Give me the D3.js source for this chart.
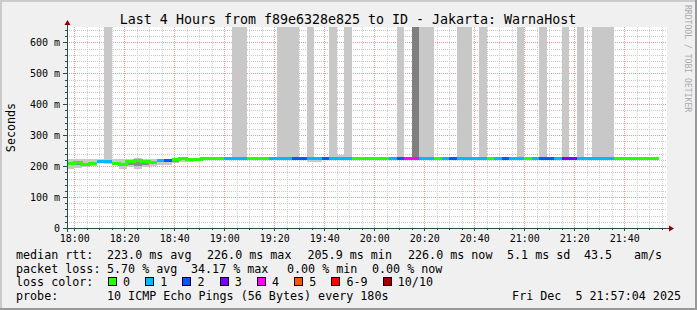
<!DOCTYPE html>
<html><head><meta charset="utf-8">
<script src="https://cdn.jsdelivr.net/npm/d3@7"></script>
<style>
body{margin:0;background:#f0f0f0}
svg{display:block}
text{font-family:"DejaVu Sans Mono",monospace;fill:#000}
</style>
</head><body><svg id="c" width="697" height="310"></svg>
<script>
// ---------------- data ----------------
const titleText = "Last 4 Hours from f89e6328e825 to ID - Jakarta: WarnaHost";
const yAxisTitle = "Seconds";
const watermark = "RRDTOOL / TOBI OETIKER";
const startTime = Date.UTC(2025, 11, 5, 17, 57, 4);
const endTime = Date.UTC(2025, 11, 5, 21, 57, 4);
const firstStep = Date.UTC(2025, 11, 5, 17, 57, 0);
const stepSeconds = 180;

const medianMs = [209,213,206,207,216,215,209,205.9,215,218,215,213,218,219,222,224,222,222,
  226,226,226,226,226,226,226,226,226,226,226,226,226,226,226,226,226,226,226,226,226,226,
  226,226,226,226,226,226,226,226,226,226,226,226,226,226,226,226,226,226,226,226,226,226,
  226,226,226,226,226,226,226,226,226,226,226,226,226,226,226,226,226];
const lossCount = [0,0,0,0,1,1,0,0,0,0,0,0,1,2,0,0,0,0,0,0,0,1,1,1,0,0,0,1,1,1,2,2,1,1,2,1,1,1,
  0,0,0,0,0,1,2,4,4,1,1,0,1,2,1,1,1,1,0,1,2,1,1,0,1,2,2,1,3,3,1,1,1,1,1,0,0,0,0,0,0];
// smoke (spread of the 10 pings), ms; 999 = beyond the top of the graph
const smokeLo = [192,193,196,199,210,208,205,192,196,192,198,200,205,205,210,215,213,218,
  224,224,224,224,222,222,224,224,224,224,222,222,222,224,213,213,224,222,224,222,224,224,
  224,224,224,224,222,224,222,222,222,224,224,224,222,222,224,222,224,224,224,224,222,224,
  224,222,224,224,222,224,222,224,222,222,222,224,224,224,224,224,224];
const smokeHi = [222,222,224,224,222,999,224,222,224,226,224,222,224,224,226,228,226,225,
  228,228,228,228,999,999,228,228,228,228,999,999,999,228,999,228,228,999,236,999,228,228,
  228,228,228,228,999,228,999,999,999,228,228,228,999,999,228,999,228,228,228,228,999,228,
  228,999,228,228,999,228,999,228,999,999,999,228,228,228,228,228,228];
const coreLo = [203,205,202,203,213,212,206,200,205,200,205,206,212,212,214,219,217,220,
  225,225,225,225,225,225,225,225,225,225,225,225,225,225,225,225,225,225,225,225,225,225,
  225,225,225,225,225,225,222,225,225,225,225,225,225,225,225,225,225,225,225,225,225,225,
  225,225,225,225,225,225,225,225,225,225,225,225,225,225,225,225,225];
const coreHi = [214,216,211,211,219,218,213,211,219,220,218,217,221,222,224,226,224,224,
  227,227,227,227,227,227,227,227,227,227,227,227,227,227,227,227,227,227,227,227,227,227,
  227,227,227,227,227,227,999,227,227,227,227,227,227,227,227,227,227,227,227,227,227,227,
  227,227,227,227,227,227,227,227,227,227,227,227,227,227,227,227,227];

const yMajorTicks = [0, 100, 200, 300, 400, 500, 600];
const xMajorTickLabels = ["18:00","18:20","18:40","19:00","19:20","19:40","20:00","20:20","20:40","21:00","21:20","21:40"];

const rttLabel = "median rtt:";
const rttStats = ["223.0 ms avg", "226.0 ms max", "205.9 ms min", "226.0 ms now", "5.1 ms sd", "43.5", "am/s"];
const lossLabel = "packet loss:";
const lossStats = ["5.70 % avg", "34.17 % max", "0.00 % min", "0.00 % now"];
const lossColorLabel = "loss color:";
const lossLabels = ["0", "1", "2", "3", "4", "5", "6-9", "10/10"];
const lossColors = ["#26ff00", "#00b8ff", "#0059ff", "#7e00ff", "#ff00ff", "#ff5500", "#ff0000", "#a10000"];
const probeLabel = "probe:";
const probeText = "10 ICMP Echo Pings (56 Bytes) every 180s";
const stampText = "Fri Dec  5 21:57:04 2025";

// ---------------- drawing ----------------
const W = 697, H = 310;
const L = 67, R = 667, T = 27, B = 228;
const svg = d3.select("#c");

svg.append("rect").attr("width", W).attr("height", H).attr("fill", "#f0f0f0");
svg.append("rect").attr("x", 0).attr("y", 0).attr("width", W).attr("height", 2).attr("fill", "#cbcbcb");
svg.append("rect").attr("x", 0).attr("y", 0).attr("width", 2).attr("height", H).attr("fill", "#cbcbcb");
svg.append("rect").attr("x", 0).attr("y", H - 2).attr("width", W).attr("height", 2).attr("fill", "#999");
svg.append("rect").attr("x", W - 2).attr("y", 0).attr("width", 2).attr("height", H).attr("fill", "#999");

const x = d3.scaleUtc().domain([new Date(startTime), new Date(endTime)]).range([L, R]);
const y = d3.scaleLinear().domain([0, 650]).range([B, T]);

svg.append("rect").attr("x", L).attr("y", T).attr("width", R - L).attr("height", B - T).attr("fill", "#fff");

const parseHM = s => { const [h, m] = s.split(":").map(Number); return new Date(Date.UTC(2025, 11, 5, h, m)); };
const majorDates = xMajorTickLabels.map(parseHM);
const minorDates = d3.utcMinute.every(5).range(new Date(startTime), new Date(endTime))
  .filter(d => d.getUTCMinutes() % 20 !== 0);
const yMinor = d3.range(20, 650, 20).filter(v => v % 100 !== 0);
const yMajorGrid = yMajorTicks.filter(v => v > 0);

const grid = svg.append("g").attr("shape-rendering", "crispEdges");
grid.selectAll(".vmin").data(minorDates).join("line")
  .attr("x1", d => Math.round(x(d)) + 0.5).attr("x2", d => Math.round(x(d)) + 0.5)
  .attr("y1", T).attr("y2", B).attr("stroke", "#d2d2d2").attr("stroke-dasharray", "1,1");
grid.selectAll(".hmin").data(yMinor).join("line")
  .attr("x1", L).attr("x2", R)
  .attr("y1", d => Math.round(y(d)) + 0.5).attr("y2", d => Math.round(y(d)) + 0.5)
  .attr("stroke", "#c8c8c8").attr("stroke-dasharray", "1,1");
grid.selectAll(".vmaj").data(majorDates).join("line")
  .attr("x1", d => Math.round(x(d)) + 0.5).attr("x2", d => Math.round(x(d)) + 0.5)
  .attr("y1", T).attr("y2", B).attr("stroke", "#e89a9a").attr("stroke-dasharray", "1,1");
grid.selectAll(".hmaj").data(yMajorGrid).join("line")
  .attr("x1", L).attr("x2", R)
  .attr("y1", d => Math.round(y(d)) + 0.5).attr("y2", d => Math.round(y(d)) + 0.5)
  .attr("stroke", "#e89a9a").attr("stroke-dasharray", "1,1");

svg.append("clipPath").attr("id", "plot").append("rect")
  .attr("x", L).attr("y", T).attr("width", R - L).attr("height", B - T);
const dataG = svg.append("g").attr("clip-path", "url(#plot)").attr("shape-rendering", "crispEdges");

const steps = medianMs.map((m, k) => ({
  k, t0: new Date(firstStep + k * stepSeconds * 1000), t1: new Date(firstStep + (k + 1) * stepSeconds * 1000),
  med: m, loss: lossCount[k], lo: smokeLo[k], hi: smokeHi[k], clo: coreLo[k], chi: coreHi[k]
}));
const clampY = v => y(Math.min(v, 700));

dataG.selectAll(".smoke").data(steps).join("rect")
  .attr("x", d => x(d.t0)).attr("width", d => x(d.t1) - x(d.t0))
  .attr("y", d => clampY(d.hi)).attr("height", d => y(d.lo) - clampY(d.hi))
  .attr("fill", "#c8c8c8");
dataG.selectAll(".core").data(steps).join("rect")
  .attr("x", d => x(d.t0)).attr("width", d => x(d.t1) - x(d.t0))
  .attr("y", d => clampY(d.chi)).attr("height", d => y(d.clo) - clampY(d.chi))
  .attr("fill", d => d.chi > 650 ? "#7f7f7f" : "#8c8c8c");

const lossIndex = n => n <= 5 ? n : (n < 10 ? 6 : 7);
const runs = [];
steps.forEach(s => {
  const c = lossIndex(s.loss);
  if (runs.length && runs[runs.length - 1].c === c) runs[runs.length - 1].pts.push(s);
  else runs.push({ c, pts: [s] });
});
const lineGen = d3.line().x(d => x(d.t)).y(d => y(d.v)).curve(d3.curveStepAfter);
dataG.selectAll(".med").data(runs).join("path")
  .attr("d", r => {
    const p = r.pts.map(s => ({ t: s.t0, v: s.med }));
    const last = r.pts[r.pts.length - 1];
    p.push({ t: last.t1, v: last.med });
    return lineGen(p);
  })
  .attr("fill", "none").attr("stroke", r => lossColors[r.c]).attr("stroke-width", 3);

// axes
const yAxis = d3.axisLeft(y).tickValues(yMajorTicks)
  .tickFormat(d => d === 0 ? "0" : d + " m").tickSize(4).tickPadding(3);
const gy = svg.append("g").attr("transform", `translate(${L},0)`).call(yAxis);
gy.select(".domain").remove();
gy.selectAll("line").attr("stroke", "#2c4d43").attr("shape-rendering", "crispEdges");
gy.selectAll("text").attr("font-size", 10).attr("font-family", "DejaVu Sans Mono").attr("dy", "0.35em");

const yMinorAxis = d3.axisLeft(y).tickValues(yMinor).tickFormat("").tickSize(2);
const gym = svg.append("g").attr("transform", `translate(${L},0)`).call(yMinorAxis);
gym.select(".domain").remove();
gym.selectAll("line").attr("stroke", "#2c4d43").attr("shape-rendering", "crispEdges");

const xAxis = d3.axisBottom(x).tickValues(majorDates).tickFormat(d3.utcFormat("%H:%M"))
  .tickSize(3).tickPadding(3.5);
const gx = svg.append("g").attr("transform", `translate(0,${B})`).call(xAxis);
gx.select(".domain").remove();
gx.selectAll("line").attr("stroke", "#2c4d43").attr("shape-rendering", "crispEdges");
gx.selectAll("text").attr("font-size", 10).attr("font-family", "DejaVu Sans Mono");

const xMinorAxis = d3.axisBottom(x).tickValues(minorDates).tickFormat("").tickSize(2);
const gxm = svg.append("g").attr("transform", `translate(0,${B})`).call(xMinorAxis);
gxm.select(".domain").remove();
gxm.selectAll("line").attr("stroke", "#2c4d43").attr("shape-rendering", "crispEdges");

svg.append("line").attr("x1", L - 4).attr("x2", R + 4).attr("y1", B + 0.5).attr("y2", B + 0.5)
  .attr("stroke", "#2c4d43").attr("shape-rendering", "crispEdges");
svg.append("line").attr("x1", L + 0.5).attr("x2", L + 0.5).attr("y1", B + 4).attr("y2", T - 3)
  .attr("stroke", "#2c4d43").attr("shape-rendering", "crispEdges");
svg.append("path").attr("d", `M${L + 0.5},${T - 7} L${L - 2.5},${T - 2} L${L + 3.5},${T - 2} Z`).attr("fill", "#8b0000");
svg.append("path").attr("d", `M${R + 7},${B + 0.5} L${R + 2},${B - 2.5} L${R + 2},${B + 3.5} Z`).attr("fill", "#8b0000");

// titles
svg.append("text").attr("x", 348).attr("y", 24).attr("text-anchor", "middle")
  .attr("font-size", 13.3).text(titleText);
svg.append("text").attr("transform", "translate(15,127.5) rotate(-90)").attr("text-anchor", "middle")
  .attr("font-size", 11.7).text(yAxisTitle);
svg.append("text").attr("transform", "translate(685,5) rotate(90)")
  .attr("font-size", 8.1).style("fill", "#aaa").text(watermark);

// legend
const FS = 11.7, CW = FS * 0.602;
const rows = [258.8, 272.6, 286.4, 300.2];
const leg = svg.append("g").attr("font-size", FS).style("white-space", "pre");
const put = (t, xx, yy, anchor) => leg.append("text").attr("x", xx).attr("y", yy)
  .attr("text-anchor", anchor || "start").attr("xml:space", "preserve").text(t);

put(rttLabel, 16, rows[0]);
const rttX = [107, 207, 307.5, 408, 507, 584, 634];
rttStats.forEach((s, i) => put(s, rttX[i], rows[0]));
put(lossLabel, 16, rows[1]);
const lossX = [107, 191, 287, 372];
lossStats.forEach((s, i) => put(s, lossX[i], rows[1]));
put(lossColorLabel, 16, rows[2]);
let bx = 108;
lossLabels.forEach((lab, i) => {
  leg.append("rect").attr("x", bx + 0.5).attr("y", rows[2] - 8.5).attr("width", 8).attr("height", 8)
    .attr("fill", lossColors[i]).attr("stroke", "#000").attr("stroke-width", 1).attr("shape-rendering", "crispEdges");
  put(lab, bx + 15, rows[2]);
  bx = bx + 15 + lab.length * CW + 15.2;
});
put(probeLabel, 16, rows[3]);
put(probeText, 107, rows[3]);
put(stampText, 681, rows[3], "end");
</script>
</body></html>
